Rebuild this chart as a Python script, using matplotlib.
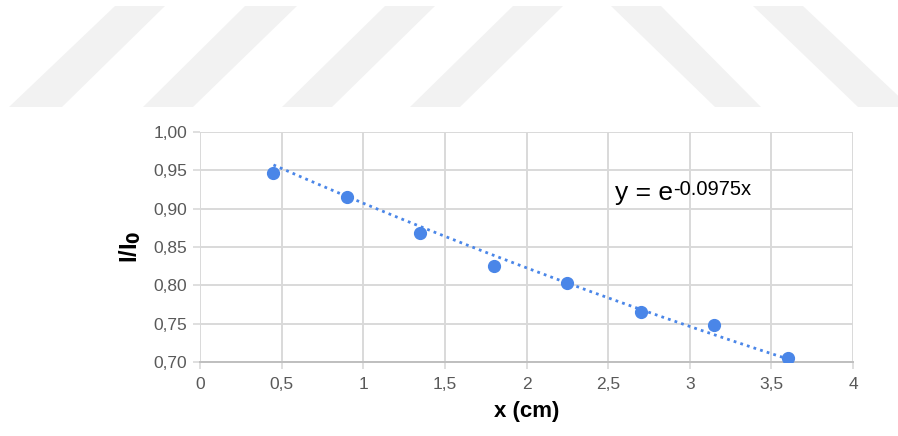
import numpy as np
import matplotlib
matplotlib.use('Agg')
import matplotlib.pyplot as plt
from matplotlib.patches import Polygon
from matplotlib.ticker import FuncFormatter, MultipleLocator

plt.rcParams['font.family'] = ['Liberation Sans', 'DejaVu Sans']
plt.rcParams['mathtext.default'] = 'regular'

# thickness (cm) vs. transmitted fraction
x_cm = [0.45, 0.90, 1.35, 1.80, 2.25, 2.70, 3.15, 3.60]
ratio = [0.947, 0.915, 0.868, 0.825, 0.803, 0.765, 0.748, 0.705]
mu = 0.0975  # fitted attenuation coefficient

blue = '#4a86e8'
grid_col = '#d9d9d9'
tick_col = '#595959'

fig = plt.figure(figsize=(8.98, 4.36), dpi=100)

# faint diagonal band watermark across the top (pixel coordinates)
bands = [
    [(9, 107), (62, 107), (165, 6), (115, 6)],
    [(143, 107), (193, 107), (297, 6), (245, 6)],
    [(282, 107), (332, 107), (435, 6), (385, 6)],
    [(410, 107), (460, 107), (563, 6), (513, 6)],
    [(715, 107), (761, 107), (661, 6), (611, 6)],
    [(858, 107), (910, 107), (803, 6), (753, 6)],
]
W, H = 898, 436
for b in bands:
    pts = [(px / W, 1 - py / H) for px, py in b]
    fig.patches.append(Polygon(pts, closed=True, transform=fig.transFigure,
                               facecolor='#f2f2f2', edgecolor='none', zorder=0))

ax = fig.add_axes([200 / W, 1 - 362 / H, 653 / W, 230 / H])
ax.set_facecolor('none')

# exponential trendline over the measured range
xs = np.linspace(min(x_cm), max(x_cm), 200)
ax.plot(xs, np.exp(-mu * xs), linestyle=(0, (1, 1.5)), color=blue, lw=2, zorder=3)
ax.plot(x_cm, ratio, 'o', color=blue, markersize=8.5, zorder=4)

ax.set_xlim(0, 4)
ax.set_ylim(0.70, 1.00)
ax.xaxis.set_major_locator(MultipleLocator(0.5))
ax.yaxis.set_major_locator(MultipleLocator(0.05))
ax.xaxis.set_major_formatter(FuncFormatter(lambda v, p: ('%g' % v).replace('.', ',')))
ax.yaxis.set_major_formatter(FuncFormatter(lambda v, p: ('%.2f' % v).replace('.', ',')))

ax.grid(True, color=grid_col, lw=1.4, zorder=0)
for s in ['top', 'right', 'left']:
    ax.spines[s].set_visible(False)
ax.spines['bottom'].set_color('#bfbfbf')
ax.spines['bottom'].set_linewidth(1.4)
ax.tick_params(axis='both', colors=grid_col, width=1.2, length=5, labelsize=12.5,
               labelcolor=tick_col)
ax.tick_params(axis='x', pad=6)
ax.tick_params(axis='y', pad=4)

ax.set_xlabel('x (cm)', fontsize=16, fontweight='bold', labelpad=6)
ax.set_ylabel('I/I$_\\mathbf{0}$', fontsize=17, fontweight='bold', labelpad=8)

# fitted equation, exponent drawn as a raised label after the base
eq = ax.text(2.54, 0.921, 'y = e', fontsize=19, color='black', va='center', ha='left')
ax.annotate('-%.4fx' % mu, xy=(1, 1.02), xycoords=eq, fontsize=14.5,
            color='black', va='top', ha='left')

fig.savefig('out.png', dpi=100)
